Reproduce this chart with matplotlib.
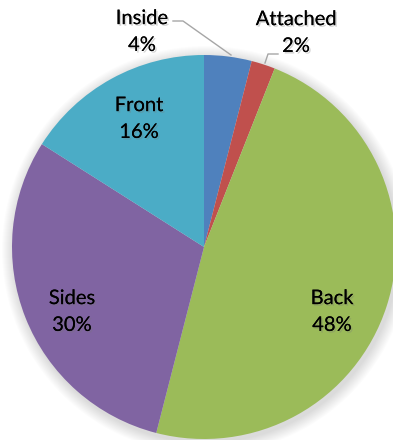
import matplotlib
matplotlib.use("Agg")
import matplotlib.pyplot as plt
import matplotlib.patheffects as pe
from matplotlib.patches import Circle

labels = ["Inside", "Attached", "Back", "Sides", "Front"]
shares = [4, 2, 48, 30, 16]
colors = ["#4F81BD", "#C0504D", "#9BBB59", "#8064A2", "#4BACC6"]

W, H = 393, 440
fig = plt.figure(figsize=(W / 100, H / 100), dpi=100)
ax = fig.add_axes([0, 0, 1, 1])

cx, cy, r = 204, H - 247, 192

# soft shadow round the pie
for i in range(12):
    ax.add_patch(Circle((cx + 2, cy - 3), r + 12 - i, color="black",
                        alpha=0.012, lw=0, zorder=0))

ax.pie(shares, colors=colors, startangle=90, counterclock=False,
       center=(cx, cy), radius=r, frame=True,
       wedgeprops=dict(linewidth=0))
ax.set_xlim(0, W)
ax.set_ylim(0, H)
ax.set_aspect("equal")
ax.axis("off")

shadow = [pe.withSimplePatchShadow(offset=(1.2, -1.2), shadow_rgbFace="#777777", alpha=0.3), pe.Normal()]
pos = {
    "Inside": (142, 32),
    "Attached": (296, 33),
    "Front": (139, 119),
    "Sides": (72, 312),
    "Back": (332, 312),
}
for lab, val in zip(labels, shares):
    x, y = pos[lab]
    ax.text(x, H - y, f"{lab}\n{val}%", ha="center", va="center",
            fontsize=14.5, family=["Lato", "DejaVu Sans"], color="black",
            linespacing=1.7, path_effects=shadow, zorder=5)

# leader lines
ax.plot([173, 183, 231], [H - 21, H - 21, H - 55], color="#A6A6A6", lw=1, zorder=4)
ax.plot([265, 268, 278], [H - 63, H - 54, H - 54], color="#A6A6A6", lw=1, zorder=4)

fig.savefig("out.png", dpi=100)
